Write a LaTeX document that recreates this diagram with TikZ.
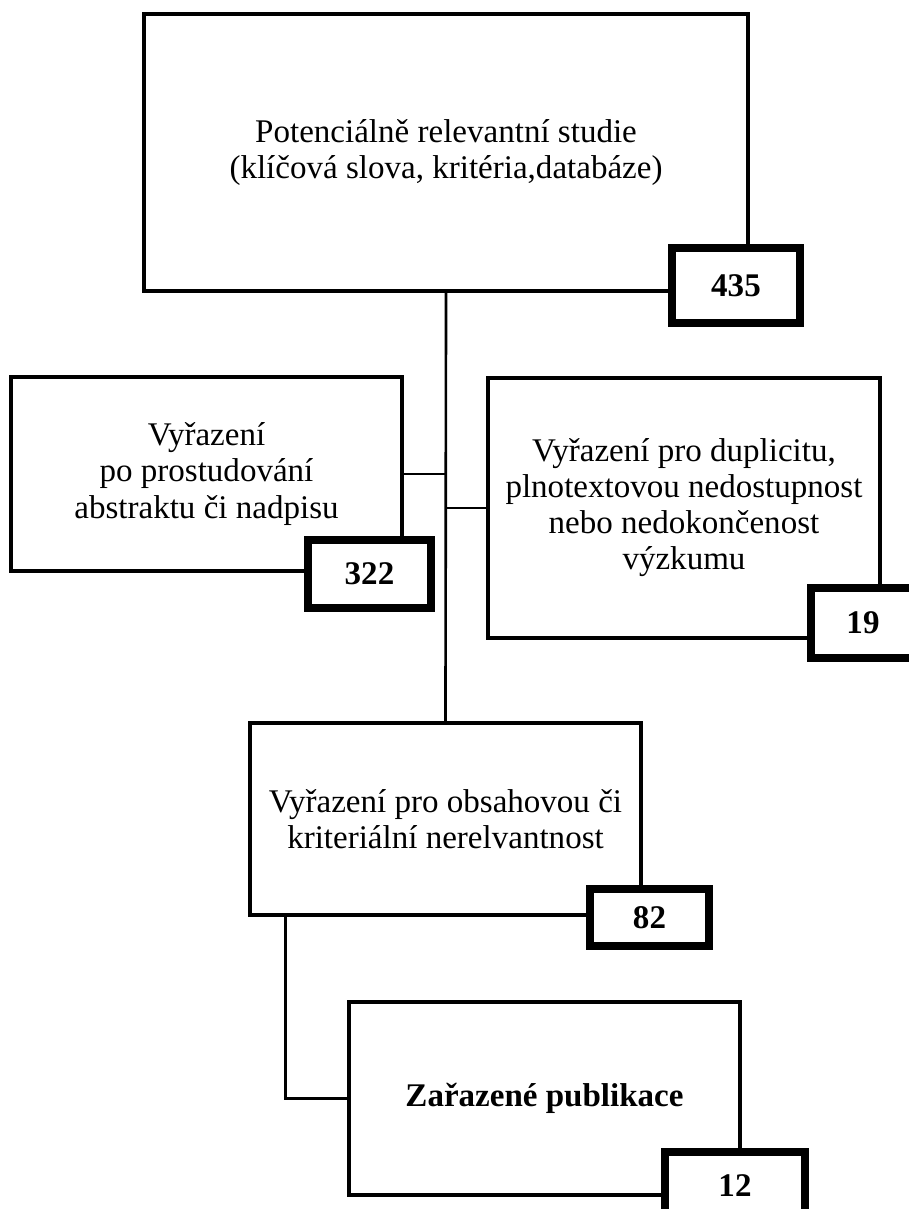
\documentclass[tikz,border=0pt]{standalone}
\usepackage{fontspec}
\setmainfont{Liberation Serif}
\usetikzlibrary{calc, positioning}

\begin{document}
\begin{tikzpicture}[
    mainbox/.style={draw, fill=white, rectangle, line width=2.5pt, inner sep=0pt, align=center, font=\fontsize{18.8}{20.5}\selectfont},
    numbox/.style={draw, fill=white, rectangle, line width=4.2pt, inner sep=0pt, font=\fontsize{18.8}{20.5}\selectfont\bfseries},
    link/.style={line width=1.5pt}
]
\useasboundingbox (0,0) rectangle (18.18,-24.18);

% Identified records
\node[mainbox, minimum width=12.08cm, minimum height=5.54cm] (found) at (8.92,-3.05) {Potenciálně relevantní studie\\(klíčová slova, kritéria,databáze)};
\node[numbox, minimum width=2.56cm, minimum height=1.50cm] (nfound) at (14.72,-5.71) {435};

% Excluded after abstract / title
\node[mainbox, minimum width=7.82cm, minimum height=3.88cm] (exabs) at (4.13,-9.48) {Vyřazení\\po prostudování\\abstraktu či nadpisu};
\node[numbox, minimum width=2.46cm, minimum height=1.36cm] (nexabs) at (7.39,-11.48) {322};

% Excluded for duplicity etc.
\node[mainbox, minimum width=7.84cm, minimum height=5.20cm] (exdup) at (13.68,-10.16) {Vyřazení pro duplicitu,\\plnotextovou nedostupnost\\nebo nedokončenost\\výzkumu};
\node[numbox, minimum width=2.08cm, minimum height=1.40cm] (nexdup) at (17.26,-12.46) {19};

% Excluded for content
\node[mainbox, minimum width=7.82cm, minimum height=3.84cm] (excont) at (8.91,-16.38) {Vyřazení pro obsahovou či\\kriteriální nerelvantnost};
\node[numbox, minimum width=2.38cm, minimum height=1.14cm] (nexcont) at (12.99,-18.35) {82};

% Included
\node[mainbox, minimum width=7.82cm, minimum height=3.86cm, font=\fontsize{18.8}{20.5}\selectfont\bfseries] (incl) at (10.89,-21.97) {Zařazené publikace};
\node[numbox, minimum width=2.80cm, minimum height=1.36cm] (nincl) at (14.70,-23.72) {12};

% Connectors
\draw[link] (found.south) -- (excont.north);
\draw[link] (exabs.east) -- (exabs.east -| found.south);
\draw[link] (exdup.west) -- (exdup.west -| found.south);
\coordinate (drop) at ($(excont.south west)+(0.76,0)$);
\draw[link] (drop) |- (incl.west);

\end{tikzpicture}
\end{document}
